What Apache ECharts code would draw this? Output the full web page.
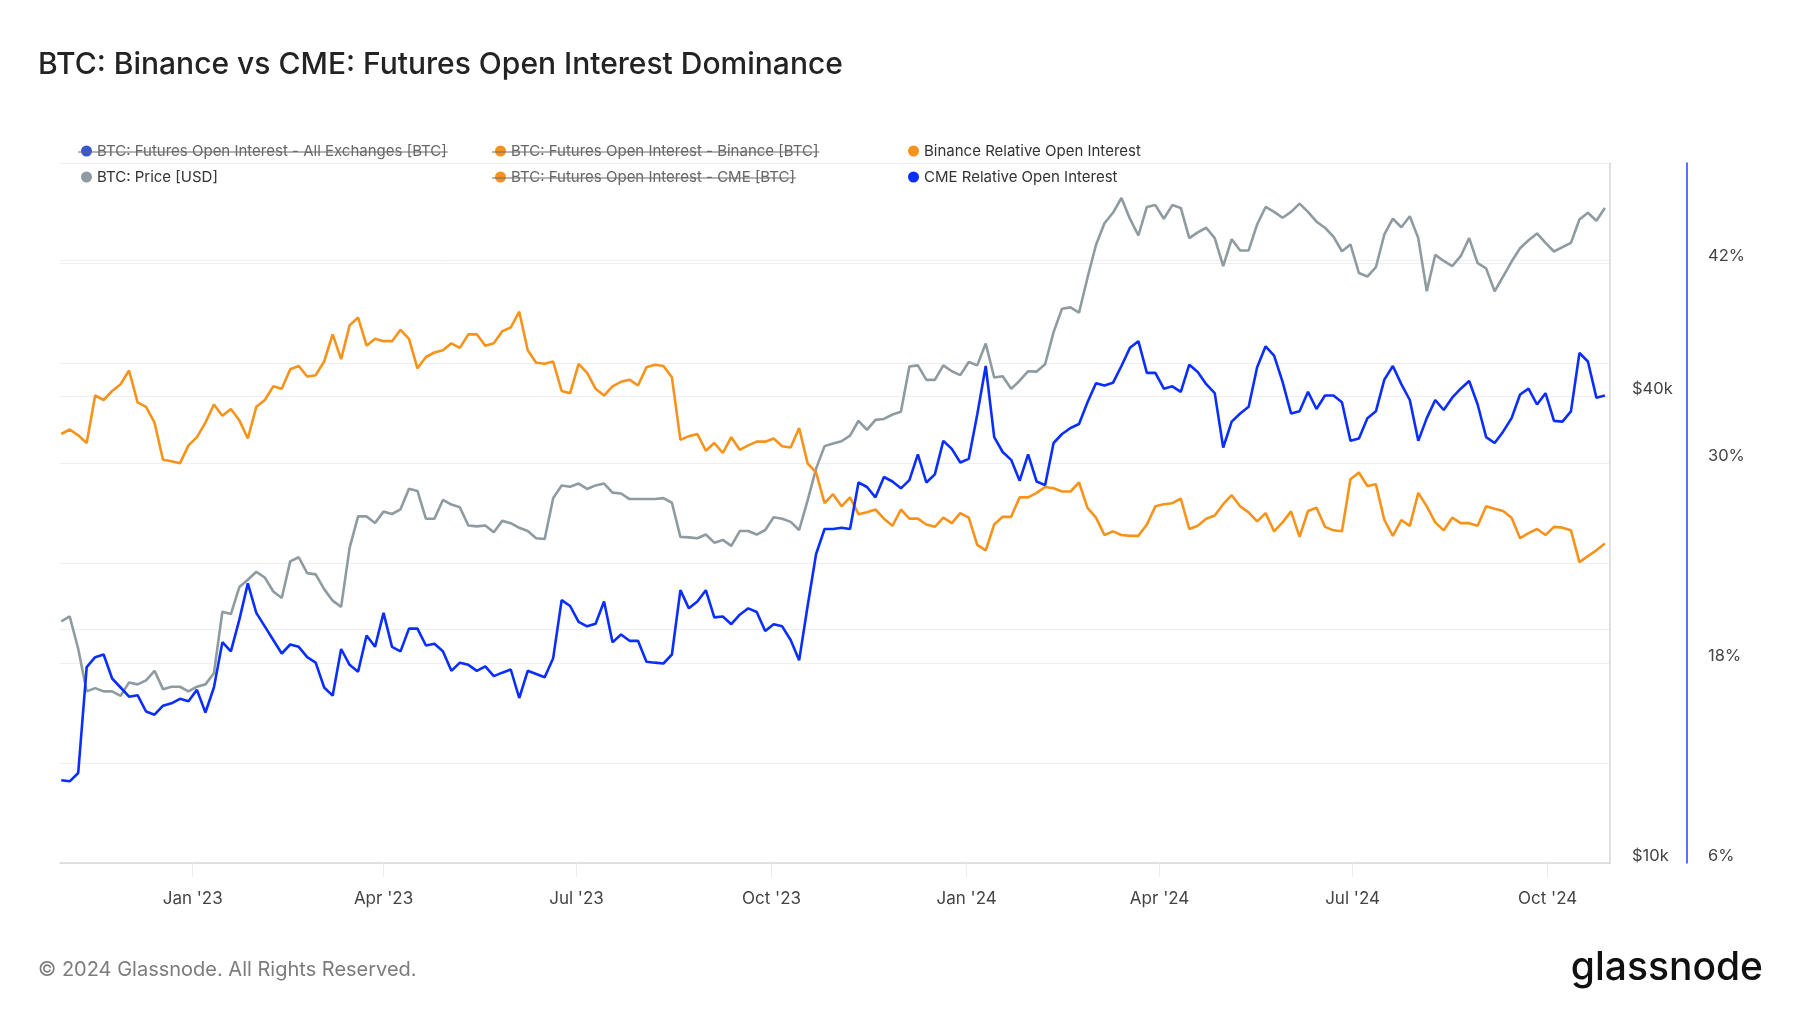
<!DOCTYPE html>
<html><head><meta charset="utf-8">
<script src="https://cdn.jsdelivr.net/npm/echarts@6/dist/echarts.min.js"></script>
<style>html,body{margin:0;padding:0;background:#fff;}#chart{width:1800px;height:1013px;}</style>
</head><body><div id="chart"></div>
<script>
// ---- data (sampled every 4 days starting 2022-10-31) ----
const startDate = Date.UTC(2022, 9, 31);
const stepDays = 4;

const btcPrice = [
20500,20800,18900,16650,16810,16650,16650,16430,17100,17000,17200,17700,16760,16880,16880,16650,16880,17000,17570,21100,
20950,22700,23200,23750,23350,22400,21970,24500,24800,23660,23570,22560,21800,21400,25500,28000,28000,27450,28400,28200,
28600,30400,30200,27800,27800,29400,29000,
28770,27250,27180,27250,26710,27630,27440,27070,26810,26240,26180,29560,30700,30580,30870,30380,30700,30870,30050,29970,
29480,29480,29480,29480,29560,29160,26350,26310,26240,26530,25900,26110,25650,26810,26810,26530,26890,27930,27810,27550,
26890,29360,32270,34500,34760,
35000,35600,37200,36200,37300,37400,37900,38200,43700,43850,42000,42000,43850,43100,42600,44300,43850,46800,42300,42450,
40900,41900,43100,43050,44000,48400,51900,52100,51300,56900,62700,66900,69000,72100,67800,64500,70200,70600,67800,70600,
70000,64000,65100,66000,64000,58900,
63800,61700,61700,66650,70200,69200,68000,69200,70900,69200,67200,66000,64300,61550,62800,57700,57100,58700,64700,67800,
66100,68300,64000,54650,60900,59800,58900,60650,64000,59400,58500,54650,57100,59700,62100,63600,64900,63100,61500,62300,
63100,67650,69000,67400,70000
];

const binanceRelOI = [
31.74,32.01,31.66,31.20,34.05,33.78,34.32,34.73,35.55,33.64,33.37,32.42,30.19,30.11,29.98,31.06,31.55,32.42,33.51,32.83,
33.24,32.56,31.47,33.37,33.78,34.60,34.46,35.63,35.82,35.19,35.27,36.09,37.72,36.23,38.26,38.73,37.04,37.45,37.31,37.31,
37.99,37.45,35.68,36.36,36.63,36.77,37.18,
36.91,37.72,37.72,37.04,37.18,37.91,38.13,39.08,36.77,36.01,35.95,36.09,34.32,34.19,35.95,35.41,34.46,34.05,34.60,34.87,
35.00,34.65,35.74,35.90,35.82,35.14,31.39,31.61,31.74,30.74,31.20,30.60,31.55,30.79,31.06,31.28,31.28,31.47,31.01,30.93,
32.10,29.98,29.43,27.59,28.13,
27.40,27.94,26.93,27.04,27.21,26.66,26.23,27.21,26.66,26.66,26.31,26.17,26.72,26.39,26.99,26.72,25.09,24.76,26.31,26.77,
26.77,27.94,27.94,28.21,28.56,28.48,28.29,28.29,28.83,27.31,26.72,25.68,25.90,25.68,25.63,25.63,26.31,27.40,27.53,27.59,
27.86,26.04,26.23,26.66,26.85,27.53,
28.07,27.40,27.04,26.50,26.99,25.90,26.44,27.10,25.57,27.12,27.31,26.17,25.96,25.90,29.03,29.43,28.62,28.73,26.58,25.63,
26.58,26.23,28.21,27.40,26.44,25.96,26.72,26.39,26.39,26.23,27.40,27.26,27.12,26.72,25.49,25.79,26.04,25.68,26.17,26.12,
25.96,24.05,24.41,24.76,25.17
];

const cmeRelOI = [
10.96,10.90,11.40,17.75,18.35,18.51,17.07,16.53,15.98,16.07,15.09,14.90,15.44,15.58,15.85,15.71,16.39,15.03,16.53,19.25,
18.70,20.60,22.78,21.01,20.20,19.38,18.57,19.11,18.97,18.35,18.02,16.53,16.04,18.84,17.89,17.48,19.65,18.97,21.01,18.97,
18.70,20.06,20.06,19.05,19.16,18.70,17.53,
18.02,17.89,17.53,17.80,17.21,17.42,17.61,15.90,17.53,17.34,17.15,18.29,21.77,21.42,20.47,20.20,20.36,21.69,19.24,19.71,
19.33,19.33,18.08,18.02,17.97,18.51,22.37,21.28,21.69,22.37,20.74,20.79,20.33,20.90,21.28,21.06,19.92,20.33,20.20,19.38,
18.16,21.42,24.54,26.04,26.04,
26.12,26.04,28.83,28.56,27.94,29.16,28.89,28.48,28.97,30.52,28.83,29.32,31.33,30.85,30.03,30.25,32.91,35.82,31.55,30.66,
30.19,28.94,30.52,28.89,28.67,31.20,31.74,32.10,32.34,33.64,34.79,34.65,34.81,35.82,36.91,37.31,35.41,35.41,34.46,34.60,
34.27,35.90,35.46,34.73,34.19,30.93,
32.48,32.97,33.37,35.74,37.00,36.44,34.87,32.97,33.10,34.27,33.24,34.05,34.05,33.64,31.33,31.47,32.69,33.10,35.00,35.82,
34.73,33.78,31.33,32.69,33.78,33.18,33.92,34.46,34.92,33.51,31.55,31.20,31.88,32.69,34.11,34.46,33.51,34.19,32.53,32.48,
33.10,36.60,36.09,33.92,34.05
];

const quarterTicks = [Date.UTC(2023,0,1), Date.UTC(2023,3,1), Date.UTC(2023,6,1), Date.UTC(2023,9,1),
                      Date.UTC(2024,0,1), Date.UTC(2024,3,1), Date.UTC(2024,6,1), Date.UTC(2024,9,1)];
const quarterLabels = ["Jan '23", "Apr '23", "Jul '23", "Oct '23", "Jan '24", "Apr '24", "Jul '24", "Oct '24"];
const percentLabelValues = [6, 18, 30, 42];
const priceLabelValues = [10000, 40000];
const priceGridValues = [20000, 40000, 60000];

const N_ALL = 'BTC: Futures Open Interest - All Exchanges [BTC]';
const N_PRICE = 'BTC: Price [USD]';
const N_BOI = 'BTC: Futures Open Interest - Binance [BTC]';
const N_COI = 'BTC: Futures Open Interest - CME [BTC]';
const N_BREL = 'Binance Relative Open Interest';
const N_CREL = 'CME Relative Open Interest';

const DAY = 86400000;
const dates = btcPrice.map((_, i) => startDate + i * stepDays * DAY);
const pair = arr => arr.map((v, i) => [dates[i], v]);

const FONT = 'Inter';
const LEG_FS = 15;
const chart = echarts.init(document.getElementById('chart'), null, {renderer: 'canvas'});

function textW(t) {
  const c = document.createElement('canvas').getContext('2d');
  c.font = LEG_FS + 'px ' + FONT;
  return c.measureText(t).width;
}
const LEG = [81, 495, 908];
const ROW = [151, 177];
function strike(col, row, name) {
  const x1 = LEG[col] - 3;
  const x2 = LEG[col] + 11 + 5 + textW(name) + 1;
  const y = ROW[row] + 1;
  return {type: 'line', z: 100, shape: {x1: x1, y1: y, x2: x2, y2: y}, style: {stroke: '#6a6a6a', lineWidth: 1}};
}

const legendBase = {
  orient: 'vertical', top: 143, padding: 0, itemGap: 10, itemWidth: 11, itemHeight: 11, icon: 'circle',
  textStyle: {fontFamily: FONT, fontSize: LEG_FS, color: '#333', lineHeight: 16}, selectedMode: false
};
const lineCommon = {type: 'line', symbol: 'none', showSymbol: false, smooth: false};
const LW = 2.6;

const option = {
  animation: false,
  backgroundColor: '#ffffff',
  title: {
    text: 'BTC: Binance vs CME: Futures Open Interest Dominance', left: 38, top: 46, padding: 0,
    textStyle: {fontFamily: FONT, fontSize: 30, fontWeight: 500, color: '#232323', lineHeight: 38}
  },
  legend: [
    Object.assign({}, legendBase, {left: LEG[0], data: [{name: N_ALL, textStyle: {color: '#666'}}, {name: N_PRICE}]}),
    Object.assign({}, legendBase, {left: LEG[1], data: [{name: N_BOI, textStyle: {color: '#666'}}, {name: N_COI, textStyle: {color: '#666'}}]}),
    Object.assign({}, legendBase, {left: LEG[2], data: [{name: N_BREL}, {name: N_CREL}]})
  ],
  grid: {left: 60, right: 190, top: 163, bottom: 150, outerBoundsMode: 'none', containLabel: false},
  xAxis: {
    type: 'value',
    min: Date.UTC(2022, 9, 30, 10), max: Date.UTC(2024, 9, 30, 10),
    axisLine: {show: true, onZero: false, lineStyle: {color: '#d8d8d8', width: 1.5}},
    axisTick: {show: true, customValues: quarterTicks, length: 14, lineStyle: {color: '#ececec', width: 1}},
    axisLabel: {
      customValues: quarterTicks, color: '#444', fontFamily: FONT, fontSize: 17, margin: 27, hideOverlap: false,
      formatter: function (v) {
        let best = 0;
        quarterTicks.forEach((q, k) => { if (Math.abs(q - v) < Math.abs(quarterTicks[best] - v)) best = k; });
        return quarterLabels[best];
      }
    },
    splitLine: {show: false}
  },
  yAxis: [
    { // percent axis
      type: 'value', position: 'right', offset: 77, min: 6, max: 48, interval: 6,
      axisLine: {show: true, onZero: false, lineStyle: {color: '#1f45fc', width: 1.5}},
      axisTick: {show: false},
      axisLabel: {
        color: '#444', fontFamily: FONT, fontSize: 16.5, margin: 21, verticalAlign: 'bottom', lineHeight: 14,
        formatter: v => percentLabelValues.includes(Math.round(v)) ? Math.round(v) + '%' : ''
      },
      splitLine: {show: true, lineStyle: {color: '#efefef', width: 1}}
    },
    { // price axis (log)
      type: 'log', logBase: 10, position: 'right', offset: 0, min: 10000, max: 80000,
      axisLine: {show: true, onZero: false, lineStyle: {color: '#d6d6d6', width: 1.5}},
      axisTick: {show: false}, axisLabel: {show: false}, splitLine: {show: false}
    },
    { // price label helper (same log mapping, linear in log10 space)
      type: 'value', position: 'right', offset: 0, min: Math.log10(10000), max: Math.log10(80000),
      axisLine: {show: false},
      axisTick: {show: false, customValues: priceGridValues.map(Math.log10)},
      axisLabel: {
        customValues: priceLabelValues.map(Math.log10), color: '#444', fontFamily: FONT, fontSize: 16.5, margin: 22,
        verticalAlign: 'bottom', lineHeight: 14,
        formatter: v => '$' + Math.round(Math.pow(10, v) / 1000) + 'k'
      },
      splitLine: {show: true, lineStyle: {color: '#efefef', width: 1}}
    }
  ],
  series: [
    Object.assign({}, lineCommon, {name: N_ALL, yAxisIndex: 1, data: [], color: '#3a55d0'}),
    Object.assign({}, lineCommon, {name: N_PRICE, yAxisIndex: 1, data: pair(btcPrice), color: '#8e9ba0',
      lineStyle: {width: LW, color: '#8e9ba0'}, z: 2}),
    Object.assign({}, lineCommon, {name: N_BOI, yAxisIndex: 0, data: [], color: '#f7931a'}),
    Object.assign({}, lineCommon, {name: N_COI, yAxisIndex: 0, data: [], color: '#f7931a'}),
    Object.assign({}, lineCommon, {name: N_BREL, yAxisIndex: 0, data: pair(binanceRelOI), color: '#f7931a',
      lineStyle: {width: LW, color: '#f7931a'}, z: 3}),
    Object.assign({}, lineCommon, {name: N_CREL, yAxisIndex: 0, data: pair(cmeRelOI), color: '#0a2eff',
      lineStyle: {width: LW, color: '#0a2eff'}, z: 4})
  ],
  graphic: [
    strike(0, 0, N_ALL), strike(1, 0, N_BOI), strike(1, 1, N_COI),
    {type: 'text', x: 38, y: 970, style: {text: '\u00a9 2024 Glassnode. All Rights Reserved.', fill: '#7c7c7c',
      fontFamily: FONT, fontSize: 20, align: 'left', verticalAlign: 'middle', textAlign: 'left', textVerticalAlign: 'middle'}},
    {type: 'text', x: 1763, y: 968, style: {text: 'glassnode', fill: '#111111', fontFamily: FONT, fontSize: 39,
      fontWeight: 500, align: 'right', verticalAlign: 'middle', textAlign: 'right', textVerticalAlign: 'middle'}}
  ]
};
chart.setOption(option);
</script>
</body></html>
